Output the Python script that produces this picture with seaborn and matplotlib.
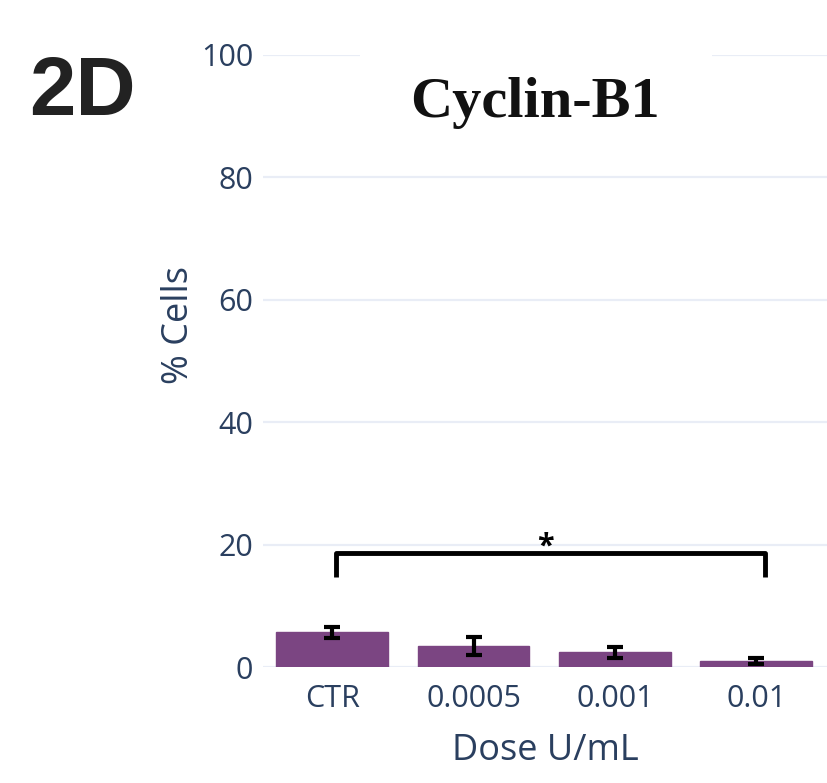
import matplotlib
matplotlib.use("Agg")
import matplotlib.pyplot as plt
import matplotlib.patches as mpatches
import seaborn as sns
import pandas as pd

doses = ["CTR", "0.0005", "0.001", "0.01"]
means = [5.7, 3.4, 2.45, 1.0]
errors = [0.9, 1.5, 0.9, 0.5]
yticks = [0, 20, 40, 60, 80, 100]
sig_bracket = (0.03, 3.06, 18.6, 14.7)  # from x, to x, top, leg bottom

sns.set_theme(style="white")
plt.rcParams['font.family'] = ['Open Sans', 'DejaVu Sans']

df = pd.DataFrame({"Dose": doses, "Cells": means})

W, H = 827, 783
fig = plt.figure(figsize=(8.27, 7.83), dpi=100)
ax = fig.add_axes([0.318, 0.148, 0.682, 0.782])

sns.barplot(data=df, x="Dose", y="Cells", color="#7b4582", saturation=1,
            width=0.79, errorbar=None, ax=ax, edgecolor="#7b4582", zorder=2)
ax.errorbar(range(len(doses)), means, yerr=errors, fmt="none", ecolor="black",
            elinewidth=3, capsize=6, capthick=3, zorder=3)

ax.set_xlim(-0.49, 3.5)
ax.set_ylim(0, 100)
ax.set_yticks(yticks)
ax.grid(axis="y", color="#e9edf6", linewidth=1.6, zorder=0)
ax.grid(axis="x", visible=False)
for s in ax.spines.values():
    s.set_visible(False)
tc = "#2a3f5f"
ax.tick_params(axis="both", colors=tc, labelsize=22, length=0)
ax.tick_params(axis="y", pad=7)
ax.tick_params(axis="x", pad=12)
ax.set_xlabel("Dose U/mL", color=tc, fontsize=26, labelpad=14)
ax.set_ylabel("% Cells", color=tc, fontsize=26)
ax.yaxis.set_label_coords(-0.117, 0.559)

# significance bracket
x0, x1, top, bot = sig_bracket
ax.plot([x0, x0, x1, x1], [bot, top, top, bot], color="black",
        linewidth=3.5, solid_capstyle="butt", zorder=4, clip_on=False)
ax.text((x0 + x1) / 2 - 0.035, top + 1.15, "*", ha="center", va="center",
        fontsize=22, fontweight="bold", color="black")

# white box behind title covering gridline
fig.patches.append(mpatches.Rectangle((360 / W, 1 - 150 / H), 352 / W, 105 / H,
                                      transform=fig.transFigure, facecolor="white",
                                      edgecolor="none", zorder=5))
fig.text(0.647, 0.868, "Cyclin-B1", ha="center", va="center",
         family=["Liberation Serif"], fontweight="bold", fontsize=42, color="#111111",
         zorder=6)
fig.text(0.035, 0.881, "2D", ha="left", va="center", family=["Liberation Sans"],
         fontweight="bold", fontsize=60, color="#222222")

fig.savefig("out.png", dpi=100)
